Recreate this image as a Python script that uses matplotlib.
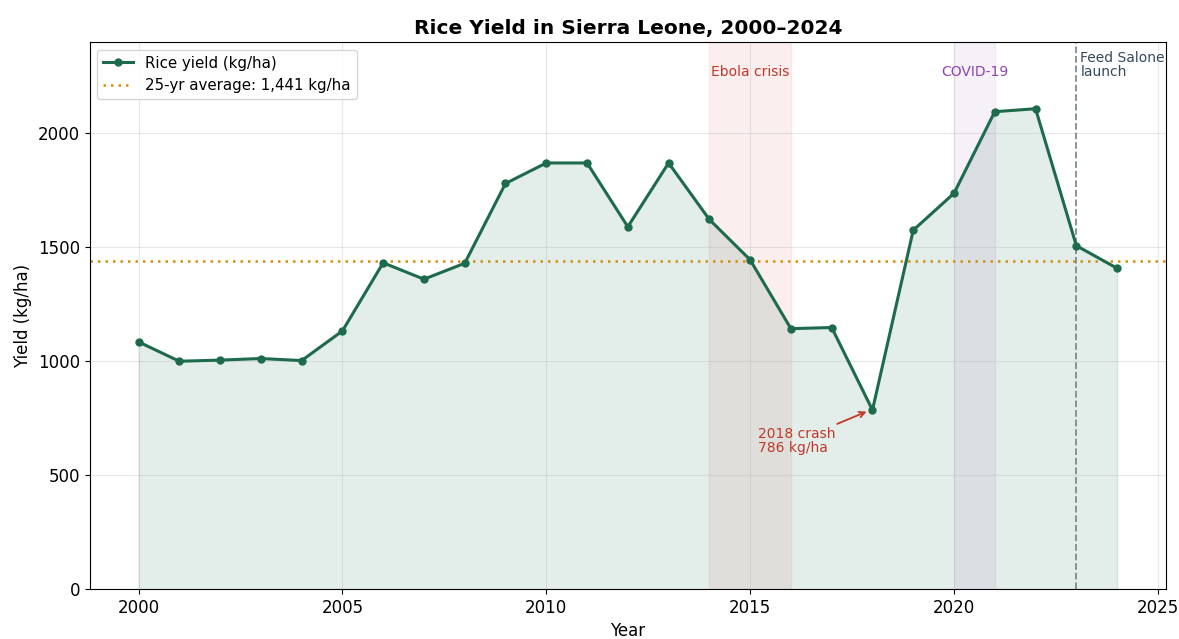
import matplotlib
matplotlib.use("Agg")
import matplotlib.pyplot as plt

years = list(range(2000, 2025))
yield_kg = [1085, 1000, 1005, 1012, 1003, 1133, 1432, 1360, 1430, 1780,
            1870, 1870, 1590, 1870, 1622, 1445, 1143, 1148, 786, 1575,
            1737, 2095, 2108, 1507, 1408]
avg = sum(yield_kg) / len(yield_kg)

fig = plt.figure(figsize=(11.79, 6.39), dpi=100)
ax = fig.add_axes([0.076, 0.078, 0.913, 0.856])

green = "#1d6b4c"
ax.fill_between(years, yield_kg, 0, color=green, alpha=0.12, zorder=1)
ax.plot(years, yield_kg, color=green, lw=2.2, marker="o", ms=5, zorder=3,
        label="Rice yield (kg/ha)")
ax.axhline(avg, color="#d4900a", lw=1.8, ls=(0, (1, 2)), zorder=2,
           label=f"25-yr average: {avg:,.0f} kg/ha")

ax.axvspan(2014, 2016, color="#c0392b", alpha=0.08, zorder=0)
ax.axvspan(2020, 2021, color="#8e44ad", alpha=0.08, zorder=0)
ax.axvline(2023, color="#7f8c8d", ls="--", lw=1.3, zorder=2)

ax.text(2015, 2270, "Ebola crisis", color="#c0392b", ha="center", va="center", fontsize=10)
ax.text(2020.5, 2270, "COVID-19", color="#8e44ad", ha="center", va="center", fontsize=10)
ax.text(2023.1, 2360, "Feed Salone\nlaunch", color="#34495e", ha="left", va="top",
        fontsize=10, linespacing=0.95)

ax.annotate("2018 crash\n786 kg/ha", xy=(2017.95, 786), xytext=(2015.2, 590),
            color="#c0392b", fontsize=10, ha="left", va="bottom", linespacing=1.0,
            arrowprops=dict(arrowstyle="->", color="#c0392b", lw=1.3,
                            shrinkA=0, shrinkB=3))

ax.set_xlim(1998.8, 2025.2)
ax.set_ylim(0, 2400)
ax.set_xticks([2000, 2005, 2010, 2015, 2020, 2025])
ax.set_yticks([0, 500, 1000, 1500, 2000])
ax.tick_params(labelsize=12)
ax.grid(True, alpha=0.3, zorder=0)
ax.set_xlabel("Year", fontsize=12)
ax.set_ylabel("Yield (kg/ha)", fontsize=12)
ax.set_title("Rice Yield in Sierra Leone, 2000\u20132024", fontsize=14.5, fontweight="bold")
ax.legend(loc="upper left", fontsize=10.8)

fig.savefig("out.png", dpi=100)
